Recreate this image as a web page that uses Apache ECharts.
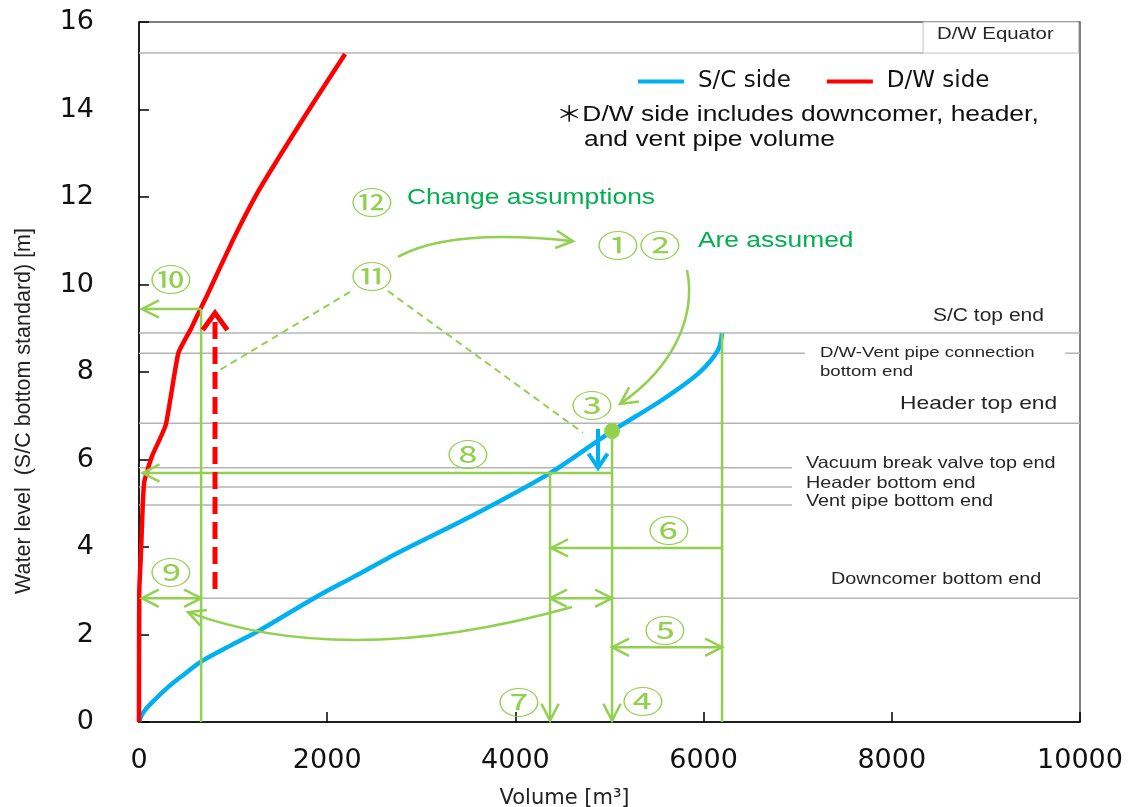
<!DOCTYPE html>
<html><head><meta charset="utf-8">
<script src="https://cdn.jsdelivr.net/npm/echarts@6/dist/echarts.min.js"></script>
<style>html,body{margin:0;padding:0;background:#fff;} #c{width:1132px;height:807px;}</style>
</head><body><div id="c"></div>
<script>
// ---------------- data ----------------
const scVolume = [0, 20, 60, 150, 300, 450, 660, 967, 1286, 1860, 2300, 2790, 3518, 4368, 5027, 5558, 5951, 6153, 6196];
const scLevel  = [0, 0.12, 0.26, 0.47, 0.78, 1.04, 1.38, 1.74, 2.10, 2.83, 3.34, 3.91, 4.69, 5.69, 6.65, 7.36, 7.98, 8.50, 8.89];
const dwVolume = [0, 3, 21, 39, 56, 135, 284, 418, 550, 648, 723, 999, 1259, 1534, 1852, 2190];
const dwLevel  = [0, 3.0, 3.86, 4.92, 5.49, 6.06, 6.79, 8.43, 8.98, 9.42, 9.75, 11.02, 12.1, 13.07, 14.15, 15.27];
const seriesNames = ['S/C side', 'D/W side'];
const xTicks = [0, 2000, 4000, 6000, 8000, 10000];
const yTicks = [0, 2, 4, 6, 8, 10, 12, 14, 16];
const refLevels = [15.29, 8.89, 8.43, 6.83, 5.81, 5.37, 4.96, 2.83];
const refNames = ['D/W Equator', 'S/C top end', 'D/W-Vent pipe connection\nbottom end', 'Header top end',
  'Vacuum break valve top end', 'Header bottom end', 'Vent pipe bottom end', 'Downcomer bottom end'];
const noteLines = ['\uFF0AD/W side includes downcomer, header,', 'and vent pipe volume'];
const xName = 'Volume [m\u00B3]';
const yName = 'Water level  (S/C bottom standard) [m]';

// ---------------- annotation layout (data units) ----------------
const refLayout = [
  {segs: [[0, 8332]], at: [8480, 15.72], size: 17},
  {segs: [[0, 10000]], at: [8438, 9.28], size: 17.5},
  {segs: [[0, 7077], [9841, 10000]], at: [7237, 8.22], size: 15.5, lh: 19},
  {segs: [[0, 10000]], at: [8087, 7.27], size: 19},
  {segs: [[0, 6940]], at: [7088, 5.92], size: 16.5},
  {segs: [[0, 6940]], at: [7088, 5.46], size: 16.5},
  {segs: [[0, 6940]], at: [7088, 5.03], size: 16.5},
  {segs: [[0, 10000]], at: [7354, 3.25], size: 16.5}
];
const labelBox = [[8332, 16], [9985, 15.29]];
const notePos = [[4431, 13.87], [4729, 13.30]];

const gLines = [ [[660, 9.44], [660, 0]], [[6196, 8.89], [6196, 0]] ];
const gArrows = [ // [from, tip]
  [[660, 9.44], [32, 9.44]],
  [[5027, 5.69], [38, 5.69]],
  [[6196, 3.98], [4380, 3.98]],
  [[4368, 5.69], [4368, 0.03]],
  [[5027, 6.65], [5027, 0.03]]
];
const gDouble = [
  [[30, 2.83], [660, 2.83]],
  [[4368, 2.83], [5027, 2.83]],
  [[5027, 1.71], [6196, 1.71]]
];
const gCurves = [ // start, ctrl(s)..., tip
  [[4601, 2.63], [2200, 1.18], [521, 2.51]],
  [[2752, 10.63], [3305, 11.29], [4612, 10.99]],
  [[5824, 10.33], [5930, 9.19], [5643, 8.05], [5112, 7.27]]
];
const gDashed = [ [[2242, 9.83], [808, 7.98]], [[2646, 9.85], [4718, 6.61]] ];
const redArrow = [[808, 3.04], [808, 9.35]];
const blueArrow = [[4878, 6.70], [4878, 5.81]];
const dotAt = [5027, 6.65];
const circled = [
  ['\u2469', 340, 10.12], ['\u2468', 340, 3.42], ['\u246A', 2476, 10.19], ['\u246B', 2476, 11.88],
  ['\u2460\u2461', 5313, 10.90], ['\u2462', 4814, 7.25], ['\u2467', 3496, 6.13], ['\u2465', 5632, 4.39],
  ['\u2464', 5590, 2.10], ['\u2466', 4038, 0.46], ['\u2463', 5356, 0.48]
];
const greenTexts = [['Change assumptions', 2848, 11.98], ['Are assumed', 5940, 10.99]];

// ---------------- helpers ----------------
const GREEN = '#92d050', TGREEN = '#00b050', SANS = '"Liberation Sans", Arial, sans-serif';
function chevron(tip, from, len, half) {
  const dx = tip[0] - from[0], dy = tip[1] - from[1];
  const d = Math.hypot(dx, dy) || 1; const bx = -dx / d, by = -dy / d;
  const c = Math.cos(half), s = Math.sin(half);
  return [[tip[0] + len * (bx * c - by * s), tip[1] + len * (bx * s + by * c)], tip,
          [tip[0] + len * (bx * c + by * s), tip[1] + len * (-bx * s + by * c)]];
}
function seg(a, b, style) { return {type: 'line', shape: {x1: a[0], y1: a[1], x2: b[0], y2: b[1]}, style: style}; }
function poly(pts, style) { return {type: 'polyline', shape: {points: pts}, style: style}; }
function txt(p, text, o) {
  return {type: 'text', x: p[0], y: p[1], scaleX: o.sx || 1.2,
    style: {text: text, fontSize: o.size, fontFamily: o.family || SANS, fill: o.color || '#262626',
      align: o.align || 'left', verticalAlign: 'middle', lineHeight: o.lh}};
}

function renderRefs(params, api) {
  const P = v => api.coord(v);
  const kids = [];
  refLevels.forEach((lv, i) => {
    const L = refLayout[i];
    L.segs.forEach(s => kids.push(seg(P([s[0], lv]), P([s[1], lv]), {stroke: '#b4b4b4', lineWidth: 1.5})));
  });
  const b0 = P(labelBox[0]), b1 = P(labelBox[1]);
  kids.push({type: 'rect', shape: {x: b0[0], y: b0[1], width: b1[0] - b0[0], height: b1[1] - b0[1]},
    style: {fill: '#fff', stroke: '#c4c4c4', lineWidth: 1}});
  refNames.forEach((n, i) => {
    const L = refLayout[i];
    kids.push(txt(P(L.at), n, {size: L.size, lh: L.lh}));
  });
  noteLines.forEach((n, i) => kids.push(txt(P(notePos[i]), n, {size: 22, color: '#111',
    family: '"Liberation Sans", "Noto Sans CJK JP", sans-serif'})));
  return {type: 'group', children: kids};
}

function renderAnno(params, api) {
  const P = v => api.coord(v);
  const kids = [];
  const gs = {stroke: GREEN, lineWidth: 2.5, fill: null};
  const hs = {stroke: GREEN, lineWidth: 2.5, fill: null, lineJoin: 'miter'};
  const HL = 19, HA = 27 * Math.PI / 180;
  gLines.forEach(l => kids.push(seg(P(l[0]), P(l[1]), gs)));
  gArrows.forEach(a => {
    const f = P(a[0]), t = P(a[1]);
    kids.push(seg(f, t, gs));
    kids.push(poly(chevron(t, f, HL, HA), hs));
  });
  gDouble.forEach(a => {
    const f = P(a[0]), t = P(a[1]);
    kids.push(seg(f, t, gs));
    kids.push(poly(chevron(t, f, HL, HA), hs));
    kids.push(poly(chevron(f, t, HL, HA), hs));
  });
  gCurves.forEach(c => {
    const p = c.map(P);
    const shape = {x1: p[0][0], y1: p[0][1], x2: p[p.length - 1][0], y2: p[p.length - 1][1],
      cpx1: p[1][0], cpy1: p[1][1]};
    if (p.length === 4) { shape.cpx2 = p[2][0]; shape.cpy2 = p[2][1]; }
    kids.push({type: 'bezierCurve', shape: shape, style: gs});
    kids.push(poly(chevron(p[p.length - 1], p[p.length - 2], HL, HA), hs));
  });
  gDashed.forEach(l => kids.push(seg(P(l[0]), P(l[1]), {stroke: GREEN, lineWidth: 2, lineDash: [7, 5]})));
  // red dashed arrow
  const r0 = P(redArrow[0]), r1 = P(redArrow[1]);
  kids.push(seg(r0, [r1[0], r1[1] + 6], {stroke: '#ff0000', lineWidth: 5, lineDash: [17, 8]}));
  kids.push(poly(chevron(r1, r0, 21, 36 * Math.PI / 180), {stroke: '#ff0000', lineWidth: 5, fill: null, lineJoin: 'miter'}));
  // blue arrow
  const b0 = P(blueArrow[0]), b1 = P(blueArrow[1]);
  kids.push(seg(b0, b1, {stroke: '#00b0f0', lineWidth: 4}));
  kids.push(poly(chevron(b1, b0, 17, 34 * Math.PI / 180), {stroke: '#00b0f0', lineWidth: 4, fill: null, lineJoin: 'miter'}));
  // dot
  const d = P(dotAt);
  kids.push({type: 'circle', shape: {cx: d[0], cy: d[1], r: 8}, style: {fill: GREEN}});
  circled.forEach(c => kids.push(txt(P([c[1], c[2]]), c[0], {size: 31, sx: 1.35, color: GREEN, align: 'center',
    family: '"Noto Sans CJK JP", "DejaVu Sans", sans-serif'})));
  greenTexts.forEach(g => kids.push(txt(P([g[1], g[2]]), g[0], {size: 22, color: TGREEN})));
  return {type: 'group', children: kids};
}

// ---------------- chart ----------------
const chart = echarts.init(document.getElementById('c'), null, {renderer: 'canvas'});
const axisCommon = {
  type: 'value',
  axisLine: {show: true, onZero: false, lineStyle: {color: '#000', width: 1.5}},
  axisTick: {show: true, inside: true, length: 10, lineStyle: {color: '#000', width: 1.5}},
  splitLine: {show: false},
  nameLocation: 'middle'
};
chart.setOption({
  animation: false,
  backgroundColor: '#fff',
  grid: {left: 139, right: 52, top: 22, bottom: 85, show: true, borderColor: '#555', borderWidth: 1.5,
    containLabel: false, outerBoundsMode: 'none'},
  legend: {
    data: seriesNames, left: 633, top: 65, itemWidth: 46, itemHeight: 4, itemGap: 36, icon: 'rect',
    textStyle: {fontSize: 23, fontFamily: 'DejaVu Sans', color: '#111', padding: [0, 0, 0, 9]}
  },
  xAxis: Object.assign({}, axisCommon, {
    min: xTicks[0], max: xTicks[xTicks.length - 1], interval: xTicks[1] - xTicks[0],
    axisLabel: {fontSize: 27, fontFamily: 'DejaVu Sans', color: '#111', margin: 25, formatter: v => String(v)},
    name: xName, nameGap: 66,
    nameTextStyle: {fontSize: 21, fontFamily: 'DejaVu Sans', color: '#222', padding: [0, 90, 0, 0]}
  }),
  yAxis: Object.assign({}, axisCommon, {
    min: yTicks[0], max: yTicks[yTicks.length - 1], interval: yTicks[1] - yTicks[0],
    axisLabel: {fontSize: 27, fontFamily: 'DejaVu Sans', color: '#111', margin: 45, formatter: v => String(v)},
    name: yName, nameGap: 104, nameRotate: 90,
    nameTextStyle: {fontSize: 21.5, fontFamily: SANS, color: '#222', padding: [0, 78, 0, 0]}
  }),
  series: [
    {type: 'custom', name: 'refs', silent: true, clip: false, z: 1, data: [[0, 0]], encode: {x: 0, y: 0}, renderItem: renderRefs},
    {type: 'line', name: seriesNames[0], z: 3, data: scVolume.map((v, i) => [v, scLevel[i]]),
      showSymbol: false, symbol: 'none', smooth: 0.3, itemStyle: {color: '#00b0f0'}, lineStyle: {color: '#00b0f0', width: 4.5}},
    {type: 'line', name: seriesNames[1], z: 3, data: dwVolume.map((v, i) => [v, dwLevel[i]]),
      showSymbol: false, symbol: 'none', smooth: 0.15, itemStyle: {color: '#ff0000'}, lineStyle: {color: '#ff0000', width: 4.5}},
    {type: 'custom', name: 'anno', silent: true, clip: false, z: 4, data: [[0, 0]], encode: {x: 0, y: 0}, renderItem: renderAnno}
  ]
});
</script>
</body></html>
